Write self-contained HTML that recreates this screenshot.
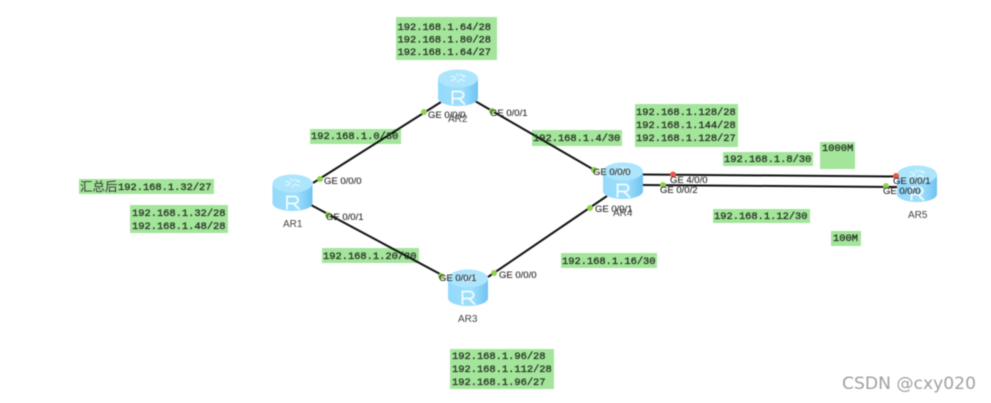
<!DOCTYPE html>
<html>
<head>
<meta charset="utf-8">
<style>
html,body{margin:0;padding:0;background:#fff;width:991px;height:403px;overflow:hidden}
svg{display:block;filter:blur(.4px)}
.m{font-family:"Liberation Mono",monospace;font-size:10.4px;fill:#2a3727;stroke:#2a3727;stroke-width:.35px}
.s{font-family:"Liberation Sans",sans-serif;font-size:9.500px;fill:#2b2b2b;stroke:#2b2b2b;stroke-width:.12px}
.n{font-family:"Liberation Sans",sans-serif;font-size:10px;fill:#444}
.g{fill:#a3e59b}
.l{stroke:#111;stroke-width:2;fill:none}
.d{fill:#8fd14f}
.r{fill:#ee5544}
</style>
</head>
<body>
<svg width="991" height="403" viewBox="0 0 991 403" xmlns="http://www.w3.org/2000/svg">
<defs>
<linearGradient id="b" x1="0" x2="1" y1="0" y2="0">
<stop offset="0" stop-color="#93dafb"/><stop offset=".6" stop-color="#9edffc"/><stop offset="1" stop-color="#6fc3f1"/>
</linearGradient>
<g id="router">
<path d="M-20 -10V10C-20 15 -10 18 0 18S20 15 20 10V-10Z" fill="url(#b)"/>
<ellipse cx="0" cy="-9.500" rx="20" ry="9" fill="#ace5fc"/>
<path d="M-7 -12L-2 -10M2 -14L6 -11M-7 -7L-2 -9M2 -9L7 -7M-2 -14L1 -12M-1 -6L2 -8M5 -13L8 -11" stroke="#e2f6ff" stroke-width="1.300" fill="none"/>
<path d="M-5.500 16.500V3.500H1.500C7 3.500 7 10.500 1.500 10.500H-5.500M1 10.500L7 16.500" stroke="#f4fcff" stroke-width="1.800" fill="none"/>
</g>
</defs>

<rect class="g" x="396" y="17" width="101" height="43"/>
<rect class="g" x="310" y="129" width="91" height="15"/>
<rect class="g" x="532" y="130" width="90" height="16"/>
<rect class="g" x="635" y="104" width="103" height="43"/>
<rect class="g" x="723" y="152" width="90" height="14"/>
<rect class="g" x="820" y="142" width="35" height="27"/>
<rect class="g" x="713" y="209" width="97" height="14"/>
<rect class="g" x="831" y="231" width="30" height="15"/>
<rect class="g" x="322" y="248" width="97" height="15"/>
<rect class="g" x="561" y="253" width="96" height="15"/>
<rect class="g" x="450" y="349" width="104" height="40"/>
<rect class="g" x="79" y="179" width="135" height="15"/>
<rect class="g" x="130" y="205" width="98" height="28"/>

<path class="l" d="M313 183L441 102"/>
<path class="l" d="M311 205L440 274"/>
<path class="l" d="M475 101L596 171"/>
<path class="l" d="M488 277L607 196"/>
<path class="l" d="M642 174.500L898 176.500"/>
<path class="l" d="M642 185L898 187"/>

<use href="#router" x="292.500" y="193"/>
<use href="#router" x="458" y="88"/>
<use href="#router" x="623" y="181"/>
<use href="#router" x="468" y="288"/>
<use href="#router" x="917" y="184"/>

<circle class="d" cx="320" cy="179" r="3"/>
<circle class="d" cx="424" cy="112" r="3"/>
<circle class="d" cx="492" cy="111" r="3"/>
<circle class="d" cx="328" cy="215" r="3"/>
<circle class="d" cx="594" cy="170" r="3"/>
<circle class="d" cx="590" cy="208" r="3"/>
<circle class="d" cx="441" cy="276" r="3"/>
<circle class="d" cx="494" cy="273" r="3"/>
<circle class="r" cx="673" cy="174.500" r="3"/>
<circle class="d" cx="663" cy="185" r="3"/>
<circle class="r" cx="896" cy="176" r="3"/>
<circle class="d" cx="886" cy="186" r="3"/>

<text class="s" x="324" y="184">GE 0/0/0</text>
<text class="s" x="428" y="118">GE 0/0/0</text>
<text class="s" x="490" y="116">GE 0/0/1</text>
<text class="s" x="326" y="220">GE 0/0/1</text>
<text class="s" x="593" y="175">GE 0/0/0</text>
<text class="s" x="595" y="212">GE 0/0/1</text>
<text class="s" x="439" y="281">GE 0/0/1</text>
<text class="s" x="499" y="278">GE 0/0/0</text>
<text class="s" x="670" y="183">GE 4/0/0</text>
<text class="s" x="660" y="193">GE 0/0/2</text>
<text class="s" x="893" y="184">GE 0/0/1</text>
<text class="s" x="883" y="194">GE 0/0/0</text>

<text class="n" x="283" y="227">AR1</text>
<text class="n" x="448" y="122">AR2</text>
<text class="n" x="458" y="322">AR3</text>
<text class="n" x="613" y="216">AR4</text>
<text class="n" x="908" y="218">AR5</text>

<text class="m" x="397.500" y="30">192.168.1.64/28</text>
<text class="m" x="397.500" y="42.500">192.168.1.80/28</text>
<text class="m" x="397.500" y="55">192.168.1.64/27</text>
<text class="m" x="311" y="139">192.168.1.0/30</text>
<text class="m" x="533" y="141">192.168.1.4/30</text>
<text class="m" x="636" y="115">192.168.1.128/28</text>
<text class="m" x="636" y="128">192.168.1.144/28</text>
<text class="m" x="636" y="141">192.168.1.128/27</text>
<text class="m" x="724" y="162">192.168.1.8/30</text>
<text class="m" x="822" y="151">1000M</text>
<text class="m" x="714" y="219">192.168.1.12/30</text>
<text class="m" x="833" y="241">100M</text>
<text class="m" x="323" y="259">192.168.1.20/30</text>
<text class="m" x="562" y="264">192.168.1.16/30</text>
<text class="m" x="452" y="359">192.168.1.96/28</text>
<text class="m" x="452" y="372">192.168.1.112/28</text>
<text class="m" x="452" y="385">192.168.1.96/27</text>
<text x="80" y="191" font-family="'Liberation Sans','Noto Sans CJK SC',sans-serif" font-size="12.500" fill="#333">汇总后</text>
<text class="m" x="118" y="190">192.168.1.32/27</text>
<text class="m" x="132" y="216">192.168.1.32/28</text>
<text class="m" x="132" y="229">192.168.1.48/28</text>

<text x="842" y="389" font-family="'DejaVu Sans','Liberation Sans',sans-serif" font-size="16.500" fill="#a0a0a0" textLength="134" lengthAdjust="spacingAndGlyphs">CSDN @cxy020</text>
</svg>
</body>
</html>
